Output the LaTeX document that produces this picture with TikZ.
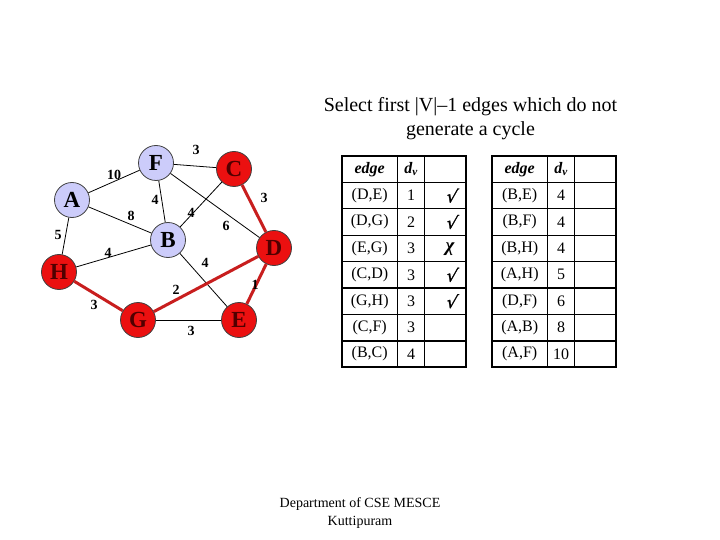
\documentclass[tikz,border=0pt]{standalone}
\usepackage{fontspec}
\setmainfont{Liberation Serif}
\newfontfamily\tickfont[FakeSlant=0.2,FakeBold=1.5]{DejaVu Sans}
\definecolor{lavfill}{RGB}{204,204,250}
\definecolor{redfill}{RGB}{235,16,16}
\definecolor{redtext}{RGB}{80,0,0}
\definecolor{rededge}{RGB}{200,30,30}
\begin{document}
\begin{tikzpicture}[x=1pt,y=-1pt,
  vtx/.style={circle,draw=black!75,line width=0.8pt,minimum size=35pt,inner sep=0pt,font=\fontsize{23}{23}\selectfont\bfseries},
  lav/.style={vtx,fill=lavfill,text=black},
  redv/.style={vtx,fill=redfill,text=redtext},
  plainedge/.style={line width=0.8pt,draw=black},
  treeedge/.style={line width=3pt,draw=rededge},
  wlab/.style={font=\fontsize{14}{14}\selectfont\bfseries,inner sep=0pt},
  cell/.style={font=\fontsize{16}{16}\selectfont,inner sep=0pt},
  hcell/.style={font=\fontsize{16}{16}\selectfont\bfseries\itshape,inner sep=0pt},
  tickcell/.style={font=\fontsize{17}{17}\tickfont,inner sep=0pt},
  chicell/.style={font=\fontsize{19}{19}\selectfont\bfseries\itshape,inner sep=0pt},
  outer/.style={line width=2.4pt,draw=black},
  inner/.style={line width=1.4pt,draw=black},
  txt/.style={align=center,inner sep=0pt}
]
\useasboundingbox (0,0) rectangle (720,540);
% title
\node[txt,font=\fontsize{20}{24}\selectfont] (title) at (470.5,119) {Select first |V|--1 edges which do not\\generate a cycle};
% footer
\node[txt,font=\fontsize{14}{18}\selectfont] (footer) at (360,513) {Department of CSE MESCE\\Kuttipuram};
% vertices
\node[lav]  (F) at (156,163) {F};
\node[redv] (C) at (234,169) {C};
\node[lav]  (A) at (72,200) {A};
\node[lav]  (B) at (168,240) {B};
\node[redv] (D) at (274,248) {D};
\node[redv] (H) at (59,272) {H};
\node[redv] (G) at (138,320) {G};
\node[redv] (E) at (239,320) {E};
% edges
\draw[plainedge] (A) -- (F);
\draw[plainedge] (F) -- (C);
\draw[plainedge] (A) -- (B);
\draw[plainedge] (F) -- (B);
\draw[plainedge] (F) -- (D);
\draw[plainedge] (C) -- (B);
\draw[plainedge] (A) -- (H);
\draw[plainedge] (H) -- (B);
\draw[plainedge] (B) -- (E);
\draw[plainedge] (G) -- (E);
\draw[treeedge] (C) -- (D);
\draw[treeedge] (D) -- (G);
\draw[treeedge] (D) -- (E);
\draw[treeedge] (H) -- (G);
% weights
\node[wlab] (wFC) at (196,150) {3};
\node[wlab] (wAF) at (114,175) {10};
\node[wlab] (wFB) at (155,200) {4};
\node[wlab] (wAB) at (131,216) {8};
\node[wlab] (wCB) at (191,213) {4};
\node[wlab] (wCD) at (264,198) {3};
\node[wlab] (wFD) at (226,226) {6};
\node[wlab] (wAH) at (58,235) {5};
\node[wlab] (wHB) at (108,253) {4};
\node[wlab] (wBE) at (205,263) {4};
\node[wlab] (wDE) at (255,285) {1};
\node[wlab] (wDG) at (176,290) {2};
\node[wlab] (wHG) at (94,305) {3};
\node[wlab] (wGE) at (191,331) {3};
% tables
\foreach \xo in {341.7,491.7}{
  \foreach \k in {1,...,7}{
    \draw[inner] (\xo,156+26.4*\k) -- (\xo+124.3,156+26.4*\k);
  }
  \draw[inner] (\xo+56,156) -- (\xo+56,367.2);
  \draw[inner] (\xo+82.6,156) -- (\xo+82.6,367.2);
  \draw[outer] (\xo,156) rectangle (\xo+124.3,367.2);
}
% left table
\node[hcell] (Lh1) at (369.7,169.2) {edge};
\node[hcell] (Lh2) at (411,169.2) {d\textsubscript{v}};
\node[cell] (L11) at (369.7,195.6) {(D,E)}; \node[cell] (L12) at (411,195.6) {1}; \node[tickcell] (L13) at (451,195.6) {√};
\node[cell] (L21) at (369.7,222.0) {(D,G)}; \node[cell] (L22) at (411,222.0) {2}; \node[tickcell] (L23) at (451,222.0) {√};
\node[cell] (L31) at (369.7,248.4) {(E,G)}; \node[cell] (L32) at (411,248.4) {3}; \node[chicell] (L33) at (450,249.4) {χ};
\node[cell] (L41) at (369.7,274.8) {(C,D)}; \node[cell] (L42) at (411,274.8) {3}; \node[tickcell] (L43) at (451,274.8) {√};
\node[cell] (L51) at (369.7,301.2) {(G,H)}; \node[cell] (L52) at (411,301.2) {3}; \node[tickcell] (L53) at (451,301.2) {√};
\node[cell] (L61) at (369.7,327.6) {(C,F)}; \node[cell] (L62) at (411,327.6) {3};
\node[cell] (L71) at (369.7,354.0) {(B,C)}; \node[cell] (L72) at (411,354.0) {4};
% right table
\node[hcell] (Rh1) at (519.7,169.2) {edge};
\node[hcell] (Rh2) at (561,169.2) {d\textsubscript{v}};
\node[cell] (R11) at (519.7,195.6) {(B,E)}; \node[cell] (R12) at (561,195.6) {4};
\node[cell] (R21) at (519.7,222.0) {(B,F)}; \node[cell] (R22) at (561,222.0) {4};
\node[cell] (R31) at (519.7,248.4) {(B,H)}; \node[cell] (R32) at (561,248.4) {4};
\node[cell] (R41) at (519.7,274.8) {(A,H)}; \node[cell] (R42) at (561,274.8) {5};
\node[cell] (R51) at (519.7,301.2) {(D,F)}; \node[cell] (R52) at (561,301.2) {6};
\node[cell] (R61) at (519.7,327.6) {(A,B)}; \node[cell] (R62) at (561,327.6) {8};
\node[cell] (R71) at (519.7,354.0) {(A,F)}; \node[cell] (R72) at (561,354.0) {10};
\end{tikzpicture}
\end{document}
